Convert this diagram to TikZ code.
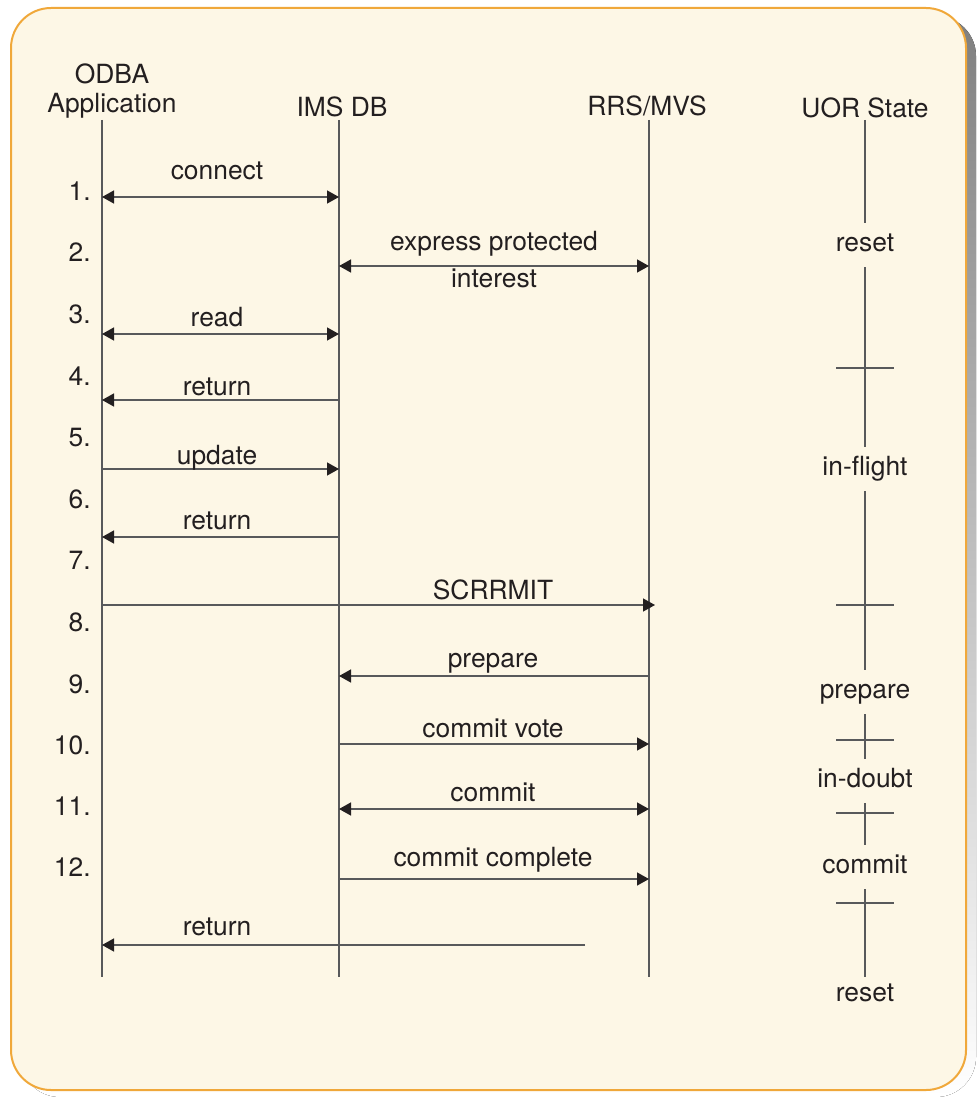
\documentclass[tikz,border=0pt]{standalone}
\usepackage{fontspec}
\setmainfont{TeX Gyre Heros}
\usetikzlibrary{arrows.meta}
\definecolor{ink}{HTML}{231F20}
\definecolor{wire}{HTML}{58595B}
\definecolor{cream}{HTML}{FDF7E6}
\definecolor{amber}{HTML}{F0A83A}
\definecolor{shade}{HTML}{E4E5E7}

\begin{document}
\begin{tikzpicture}[
    x=0.5pt, y=-0.5pt,
    lifeline/.style={draw=wire, line width=0.8pt},
    tick/.style={draw=wire, line width=0.7pt},
    msg/.style={-{Triangle[length=6pt,width=6.5pt,color=ink]}, draw=wire, line width=0.7pt},
    both/.style={{Triangle[length=6pt,width=6.5pt,color=ink]}-{Triangle[length=6pt,width=6.5pt,color=ink]}, draw=wire, line width=0.7pt},
    lbl/.style={text=ink, font=\fontsize{13.2}{14.5}\selectfont, text height=9.75pt, text depth=3.25pt, inner sep=0pt, yshift=-1pt},
    state/.style={lbl, inner ysep=4.5pt},
    num/.style={lbl, anchor=east},
    head/.style={text=ink, font=\fontsize{13.2}{14.5}\selectfont, align=center, inner sep=0pt, yshift=-1pt}
]
\useasboundingbox (0,0) rectangle (976,1097);
\fill[shade, rounded corners=20pt] (20,16) rectangle (976,1097);
\draw[amber, fill=cream, line width=1pt, rounded corners=20pt] (11,8) rectangle (966,1090);

\node[head] (odba) at (112,89) {ODBA\\Application};
\node[lbl] (ims) at (342,108) {IMS DB};
\node[lbl] (rrs) at (647,107) {RRS/MVS};
\node[lbl] (uor) at (865,109) {UOR State};

\coordinate (odbatop) at (102,120);
\coordinate (odbabot) at (102,977);
\coordinate (imstop) at (339,120);
\coordinate (imsbot) at (339,977);
\coordinate (rrstop) at (649,120);
\coordinate (rrsbot) at (649,977);
\coordinate (uortop) at (865,120);
\coordinate (uorbot) at (865,977);
\draw[lifeline] (odbatop) -- (odbabot);
\draw[lifeline] (imstop) -- (imsbot);
\draw[lifeline] (rrstop) -- (rrsbot);

\node[num] (n1) at (91,192) {1.};
\node[num] (n2) at (91,253) {2.};
\node[num] (n3) at (91,315) {3.};
\node[num] (n4) at (91,377) {4.};
\node[num] (n5) at (91,438) {5.};
\node[num] (n6) at (91,500) {6.};
\node[num] (n7) at (91,561) {7.};
\node[num] (n8) at (91,623) {8.};
\node[num] (n9) at (91,685) {9.};
\node[num] (n10) at (91,746) {10.};
\node[num] (n11) at (91,807) {11.};
\node[num] (n12) at (91,868) {12.};

\coordinate (a1) at (0,197);
\coordinate (a2) at (0,266);
\coordinate (a3) at (0,334);
\coordinate (a4) at (0,400);
\coordinate (a5) at (0,469);
\coordinate (a6) at (0,537);
\coordinate (a7) at (0,605);
\coordinate (a8) at (0,676);
\coordinate (a9) at (0,744);
\coordinate (a10) at (0,809);
\coordinate (a11) at (0,879);
\coordinate (retfrom) at (585,945);

\draw[both] (odbatop |- a1) -- (imstop |- a1);
\draw[both] (imstop |- a2) -- (rrstop |- a2);
\draw[both] (odbatop |- a3) -- (imstop |- a3);
\draw[msg] (imstop |- a4) -- (odbatop |- a4);
\draw[msg] (odbatop |- a5) -- (imstop |- a5);
\draw[msg] (imstop |- a6) -- (odbatop |- a6);
\draw[msg] (odbatop |- a7) -- ([xshift=3pt]rrstop |- a7);
\draw[msg] (rrstop |- a8) -- (imstop |- a8);
\draw[msg] (imstop |- a9) -- (rrstop |- a9);
\draw[both] (imstop |- a10) -- (rrstop |- a10);
\draw[msg] (imstop |- a11) -- (rrstop |- a11);
\draw[msg] (retfrom) -- (odbatop |- retfrom);

\node[lbl] (lconnect) at (217,171) {connect};
\node[lbl] (lexpress) at (494,242) {express protected};
\node[lbl] (linterest) at (494,279) {interest};
\node[lbl] (lread) at (217,318) {read};
\node[lbl] (lreturna) at (217,387) {return};
\node[lbl] (lupdate) at (217,456) {update};
\node[lbl] (lreturnb) at (217,521) {return};
\node[lbl] (lscrrmit) at (493,591) {SCRRMIT};
\node[lbl] (lprepare) at (493,659) {prepare};
\node[lbl] (lvote) at (493,729) {commit vote};
\node[lbl] (lcommit) at (493,793) {commit};
\node[lbl] (lcomplete) at (493,858) {commit complete};
\node[lbl] (lreturnc) at (217,927) {return};

\node[state] (st1) at (865,243) {reset};
\node[state] (st2) at (865,467) {in-flight};
\node[state] (st3) at (865,690) {prepare};
\node[state] (st4) at (865,779) {in-doubt};
\node[state] (st5) at (865,865) {commit};
\node[state] (st6) at (865,993) {reset};
\draw[lifeline] (uortop) -- (st1);
\draw[lifeline] (st1) -- (st2);
\draw[lifeline] (st2) -- (st3);
\draw[lifeline] (st3) -- (st4);
\draw[lifeline] (st4) -- (st5);
\draw[lifeline] (st5) -- (uorbot);
\draw[tick] (836,368) -- (894,368);
\draw[tick] (836,605) -- (894,605);
\draw[tick] (836,740) -- (894,740);
\draw[tick] (836,813) -- (894,813);
\draw[tick] (836,903) -- (894,903);
\end{tikzpicture}
\end{document}
